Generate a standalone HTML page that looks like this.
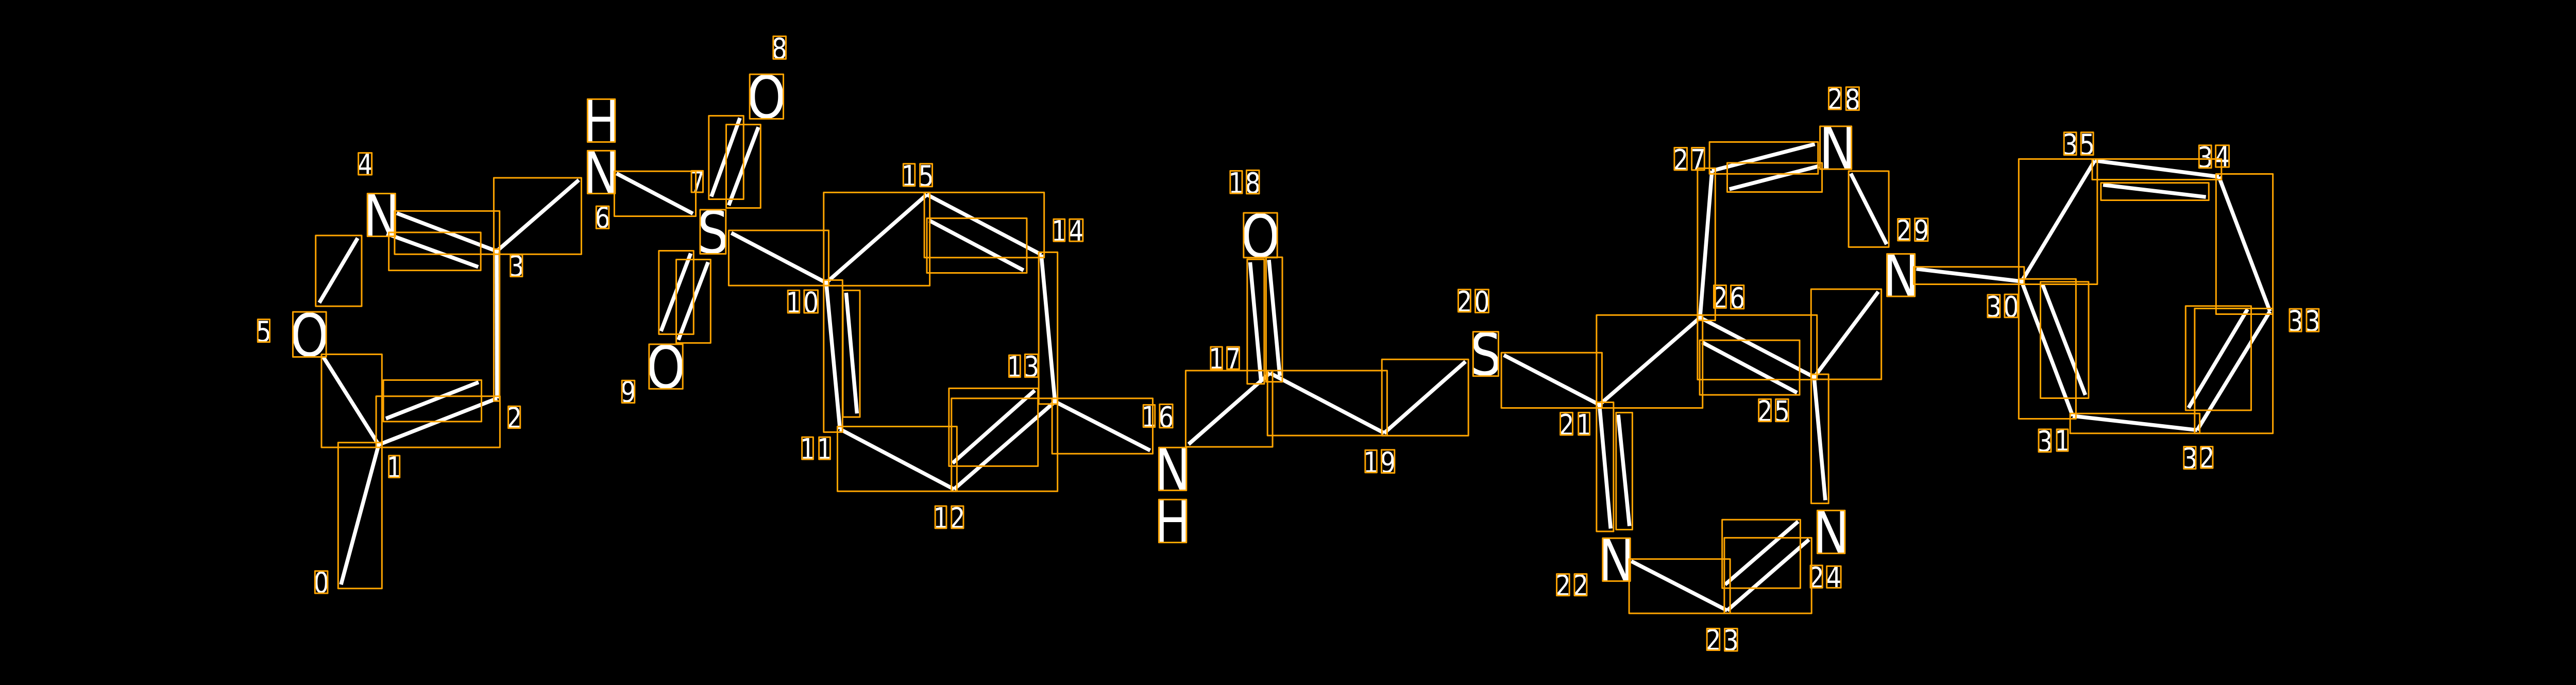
<!DOCTYPE html>
<html>
<head>
<meta charset="utf-8">
<style>
html,body{margin:0;padding:0;background:#000;width:100%;height:100%;overflow:hidden}
svg{display:block;width:100vw;height:100vh}
line{stroke:#fff;stroke-width:7.5;vector-effect:non-scaling-stroke}
rect{fill:none;stroke:#FFA500;stroke-width:3;vector-effect:non-scaling-stroke;stroke-linejoin:round}
text{fill:#fff;font-family:"DejaVu Sans","Liberation Sans",sans-serif;text-anchor:middle}
.b text{font-size:114px}
.d text{font-size:56px}
</style>
</head>
<body>
<svg xmlns="http://www.w3.org/2000/svg" viewBox="0 0 5900 1329" preserveAspectRatio="none">
<rect x="0" y="0" width="5900" height="1329" style="fill:#000;stroke:none"/>

<!-- bonds -->
<g transform="translate(500,0) scale(.8291,.8476)">
<line x1="339" y1="1338" x2="443" y2="1018"/>
<line x1="443" y1="1018" x2="770" y2="912"/>
<line x1="463" y1="958" x2="719" y2="875"/>
<line x1="770" y1="912" x2="769" y2="575"/>
<line x1="769" y1="575" x2="493" y2="488"/>
<line x1="718" y1="611" x2="465" y2="535"/>
<line x1="769" y1="575" x2="996" y2="412"/>
<line x1="385" y1="545" x2="279" y2="693"/>
<line x1="290" y1="817" x2="443" y2="1018"/>
<line x1="1100" y1="397" x2="1311" y2="489"/>
<line x1="1441" y1="270" x2="1362" y2="450"/>
<line x1="1492" y1="291" x2="1410" y2="470"/>
<line x1="1305" y1="580" x2="1223" y2="758"/>
<line x1="1353" y1="600" x2="1271" y2="778"/>
</g>
<line x1="1675" y1="452" x2="1892" y2="548.5"/>
<g transform="translate(1700,250) scale(.8291,.574)">
<line x1="232" y1="520" x2="510" y2="222"/>
<line x1="510" y1="222" x2="826" y2="425"/>
<line x1="517" y1="310" x2="777" y2="478"/>
<line x1="826" y1="425" x2="864" y2="922"/>
<line x1="864" y1="922" x2="1127" y2="1087"/>
<line x1="864" y1="922" x2="585" y2="1218"/>
<line x1="808" y1="884" x2="581" y2="1130"/>
<line x1="585" y1="1218" x2="270" y2="1015"/>
<line x1="270" y1="1015" x2="232" y2="520"/>
<line x1="317" y1="962" x2="287" y2="554"/>
<line x1="1233" y1="1066" x2="1458" y2="825"/>
<line x1="1403" y1="451" x2="1433" y2="850"/>
<line x1="1455" y1="443" x2="1485" y2="835"/>
</g>
<line x1="2909" y1="724" x2="3170" y2="840"/>
<g transform="translate(3000,250) scale(.8291,.6881)">
<line x1="205" y1="858" x2="430" y2="656"/>
<line x1="536" y1="638" x2="800" y2="778"/>
<line x1="800" y1="778" x2="1078" y2="532"/>
<line x1="1078" y1="532" x2="1111" y2="118"/>
<line x1="1111" y1="118" x2="1395" y2="43"/>
<line x1="1159" y1="170" x2="1406" y2="105"/>
<line x1="1078" y1="532" x2="1393" y2="700"/>
<line x1="1084" y1="602" x2="1346" y2="744"/>
<line x1="1393" y1="700" x2="1424" y2="1047"/>
<line x1="800" y1="778" x2="831" y2="1127"/>
<line x1="852" y1="806" x2="883" y2="1120"/>
<line x1="888" y1="1219" x2="1153" y2="1358"/>
<line x1="1153" y1="1358" x2="1379" y2="1158"/>
<line x1="1147" y1="1285" x2="1349" y2="1107"/>
</g>
<line x1="4155" y1="732" x2="4302" y2="566"/>
<g transform="translate(4200,100) scale(.8291,.7838)">
<line x1="47" y1="302" x2="146" y2="477"/>
<line x1="228" y1="538" x2="519" y2="569"/>
<line x1="519" y1="569" x2="721" y2="270"/>
<line x1="721" y1="270" x2="1064" y2="310"/>
<line x1="744" y1="330" x2="1028" y2="360"/>
<line x1="1064" y1="310" x2="1205" y2="643"/>
<line x1="1205" y1="643" x2="1004" y2="937"/>
<line x1="1143" y1="638" x2="980" y2="882"/>
<line x1="1004" y1="937" x2="660" y2="902"/>
<line x1="660" y1="902" x2="519" y2="569"/>
<line x1="577" y1="577" x2="695" y2="850"/>
</g>

<!-- atom symbols -->
<g class="b">
<text x="1377" y="275.5">H</text>
<text x="1377" y="375.5">N</text>
<text x="873.5" y="458.5">N</text>
<text x="709" y="691">O</text>
<text x="1633" y="491">S</text>
<text x="1525" y="753">O</text>
<text x="1755.6" y="229">O</text>
<text x="2886.9" y="498.5">O</text>
<text x="2685.8" y="951.4">N</text>
<text x="2685.8" y="1052.5">H</text>
<text x="3403" y="728">S</text>
<text x="3702.2" y="1127.3">N</text>
<text x="4193.9" y="1073.7">N</text>
<text x="4209" y="328">N</text>
<text x="4353.8" y="575">N</text>
</g>

<!-- atom indices -->
<g class="d">
<text x="836.2" y="339">4</text>
<text x="604" y="663">5</text>
<text x="735.9" y="1150">0</text>
<text x="903" y="926.4">1</text>
<text x="1177.8" y="830.6">2</text>
<text x="1182.8" y="536">3</text>
<text x="1380" y="442">6</text>
<text x="1597" y="373">7</text>
<text x="1439" y="780">9</text>
<text x="1785" y="114">8</text>
<text x="2082.2" y="360.8">1</text><text x="2121.2" y="361">5</text>
<text x="2425.9" y="468.1">1</text><text x="2464.8" y="468">4</text>
<text x="2831.3" y="375.1">1</text><text x="2869.5" y="375">8</text>
<text x="1817.7" y="607">1</text><text x="1857.5" y="606.5">0</text>
<text x="2323.9" y="731.6">1</text><text x="2362.5" y="731">3</text>
<text x="1849.7" y="891.2">1</text><text x="1888.6" y="891">1</text>
<text x="2631.9" y="828.6">1</text><text x="2670.9" y="829">6</text>
<text x="2786.1" y="716">1</text><text x="2824.3" y="716">7</text>
<text x="2154.8" y="1024.9">1</text><text x="2192.9" y="1025">2</text>
<text x="3354" y="605">2</text><text x="3394.2" y="605">0</text>
<text x="3587.8" y="843.8">2</text><text x="3628" y="843.8">1</text>
<text x="3140" y="916.8">1</text><text x="3179" y="917">9</text>
<text x="3849.4" y="329.8">2</text><text x="3889.2" y="329.8">7</text>
<text x="3939.4" y="597.5">2</text><text x="3979.2" y="598">6</text>
<text x="4042.2" y="817.7">2</text><text x="4081.6" y="817.7">5</text>
<text x="3580" y="1155.5">2</text><text x="3620" y="1155.5">2</text>
<text x="4160.3" y="1140.4">2</text><text x="4200" y="1140.4">4</text>
<text x="3924" y="1261.5">2</text><text x="3964.7" y="1262">3</text>
<text x="4203" y="212">2</text><text x="4243" y="213">8</text>
<text x="4360.4" y="466.8">2</text><text x="4400.6" y="467">9</text>
<text x="4741.4" y="300">3</text><text x="4780.4" y="300">5</text>
<text x="5050.6" y="325">3</text><text x="5090" y="324">4</text>
<text x="4566.5" y="615">3</text><text x="4606.3" y="615">0</text>
<text x="5257.5" y="642.5">3</text><text x="5296.9" y="642.5">3</text>
<text x="4683.4" y="876">3</text><text x="4723.6" y="875.2">1</text>
<text x="5015.4" y="909">3</text><text x="5054.4" y="908">2</text>
</g>

<!-- boxes -->
<g transform="translate(500,0) scale(.8291,.8476)">
<rect x="331" y="1013" width="121" height="334"/>
<rect x="436" y="907" width="342" height="117"/>
<rect x="456" y="870" width="271" height="95"/>
<rect x="285" y="811" width="167" height="213"/>
<rect x="761" y="570" width="16" height="348"/>
<rect x="487" y="483" width="290" height="99"/>
<rect x="471" y="532" width="254" height="87"/>
<rect x="761" y="407" width="242" height="175"/>
<rect x="269" y="539" width="127" height="162"/>
<rect x="1094" y="392" width="225" height="103"/>
<rect x="1355" y="265" width="96" height="191"/>
<rect x="1403" y="285" width="95" height="191"/>
<rect x="1217" y="574" width="96" height="191"/>
<rect x="1265" y="594" width="95" height="191"/>
<rect x="1020" y="227" width="76" height="98"/>
<rect x="1020" y="345" width="76" height="98"/>
<rect x="412" y="443" width="77" height="98"/>
<rect x="206" y="714" width="92" height="103"/>
<rect x="1331" y="480" width="71" height="101"/>
<rect x="1190" y="788" width="93" height="102"/>
<rect x="1468" y="170" width="93" height="102"/>
<rect x="387" y="350" width="37" height="50"/>
<rect x="109" y="731" width="33" height="52"/>
<rect x="267" y="1307" width="35" height="51"/>
<rect x="471" y="1043" width="30" height="50"/>
<rect x="801" y="930" width="33" height="50"/>
<rect x="807" y="583" width="33" height="50"/>
<rect x="1044" y="472" width="35" height="51"/>
<rect x="1307" y="391" width="32" height="49"/>
<rect x="1115" y="871" width="35" height="51"/>
<rect x="1533" y="83" width="35" height="52"/>
</g>
<rect x="1669" y="447" width="229" height="107"/>
<rect x="2903" y="719" width="274" height="126"/>
<rect x="4148" y="561" width="161" height="175"/>
<g transform="translate(1700,250) scale(.8291,.574)">
<rect x="225" y="215" width="293" height="315"/>
<rect x="503" y="215" width="331" height="220"/>
<rect x="510" y="302" width="276" height="185"/>
<rect x="819" y="417" width="52" height="513"/>
<rect x="578" y="911" width="293" height="314"/>
<rect x="856" y="911" width="278" height="187"/>
<rect x="571" y="877" width="246" height="263"/>
<rect x="263" y="1006" width="330" height="219"/>
<rect x="225" y="511" width="52" height="514"/>
<rect x="278" y="546" width="47" height="428"/>
<rect x="1225" y="817" width="240" height="258"/>
<rect x="1395" y="441" width="47" height="421"/>
<rect x="1447" y="434" width="45" height="421"/>
<rect x="1385" y="284" width="93" height="151"/>
<rect x="1151" y="1077" width="76" height="145"/>
<rect x="1151" y="1253" width="76" height="145"/>
<rect x="445" y="118" width="32" height="75"/>
<rect x="491" y="118" width="34" height="77"/>
<rect x="860" y="305" width="31" height="75"/>
<rect x="904" y="305" width="37" height="75"/>
<rect x="1348" y="142" width="33" height="76"/>
<rect x="1393" y="140" width="35" height="79"/>
<rect x="126" y="546" width="32" height="76"/>
<rect x="171" y="545" width="38" height="77"/>
<rect x="737" y="765" width="31" height="74"/>
<rect x="781" y="762" width="36" height="77"/>
<rect x="165" y="1042" width="31" height="75"/>
<rect x="212" y="1042" width="31" height="75"/>
<rect x="1108" y="933" width="32" height="75"/>
<rect x="1153" y="931" width="36" height="79"/>
<rect x="1294" y="737" width="32" height="75"/>
<rect x="1339" y="737" width="34" height="75"/>
<rect x="533" y="1275" width="31" height="75"/>
<rect x="578" y="1275" width="33" height="75"/>
</g>
<g transform="translate(3000,250) scale(.8291,.6881)">
<rect x="199" y="650" width="239" height="215"/>
<rect x="529" y="631" width="278" height="156"/>
<rect x="792" y="525" width="293" height="262"/>
<rect x="1071" y="111" width="49" height="429"/>
<rect x="1104" y="37" width="300" height="90"/>
<rect x="1153" y="96" width="262" height="82"/>
<rect x="1071" y="525" width="330" height="182"/>
<rect x="1077" y="596" width="276" height="154"/>
<rect x="1385" y="692" width="48" height="364"/>
<rect x="792" y="771" width="47" height="364"/>
<rect x="846" y="800" width="45" height="330"/>
<rect x="882" y="1213" width="279" height="153"/>
<rect x="1145" y="1153" width="241" height="213"/>
<rect x="1139" y="1102" width="216" height="193"/>
<rect x="451" y="572" width="70" height="125"/>
<rect x="809" y="1154" width="76" height="121"/>
<rect x="1402" y="1076" width="76" height="121"/>
<rect x="410" y="453" width="34" height="63"/>
<rect x="457" y="453" width="37" height="65"/>
<rect x="692" y="800" width="34" height="63"/>
<rect x="742" y="800" width="31" height="63"/>
<rect x="153" y="906" width="32" height="63"/>
<rect x="198" y="905" width="36" height="65"/>
<rect x="1007" y="53" width="35" height="63"/>
<rect x="1055" y="53" width="35" height="63"/>
<rect x="1116" y="441" width="34" height="64"/>
<rect x="1163" y="441" width="36" height="66"/>
<rect x="1240" y="762" width="34" height="63"/>
<rect x="1287" y="762" width="35" height="63"/>
<rect x="682" y="1255" width="35" height="61"/>
<rect x="731" y="1255" width="34" height="61"/>
<rect x="1383" y="1231" width="33" height="63"/>
<rect x="1428" y="1233" width="39" height="61"/>
<rect x="1097" y="1409" width="35" height="61"/>
<rect x="1146" y="1409" width="35" height="63"/>
</g>
<g transform="translate(4200,100) scale(.8291,.7838)">
<rect x="41" y="296" width="111" height="188"/>
<rect x="221" y="533" width="305" height="43"/>
<rect x="511" y="266" width="217" height="310"/>
<rect x="714" y="266" width="357" height="51"/>
<rect x="738" y="325" width="298" height="43"/>
<rect x="1056" y="303" width="157" height="347"/>
<rect x="997" y="636" width="216" height="309"/>
<rect x="972" y="630" width="181" height="258"/>
<rect x="653" y="896" width="358" height="49"/>
<rect x="511" y="563" width="158" height="346"/>
<rect x="571" y="570" width="133" height="288"/>
<rect x="147" y="501" width="77" height="105"/>
<rect x="-38" y="185" width="87" height="106"/>
<rect x="-14" y="89" width="34" height="54"/>
<rect x="34" y="88" width="36" height="57"/>
<rect x="177" y="414" width="33" height="54"/>
<rect x="224" y="413" width="36" height="56"/>
<rect x="636" y="200" width="34" height="56"/>
<rect x="683" y="200" width="34" height="56"/>
<rect x="1009" y="232" width="34" height="56"/>
<rect x="1055" y="232" width="37" height="54"/>
<rect x="425" y="602" width="34" height="56"/>
<rect x="472" y="601" width="36" height="57"/>
<rect x="1259" y="637" width="33" height="56"/>
<rect x="1306" y="637" width="34" height="56"/>
<rect x="566" y="935" width="34" height="56"/>
<rect x="616" y="935" width="31" height="54"/>
<rect x="967" y="978" width="33" height="55"/>
<rect x="1014" y="978" width="33" height="53"/>
</g>
</svg>
</body>
</html>
